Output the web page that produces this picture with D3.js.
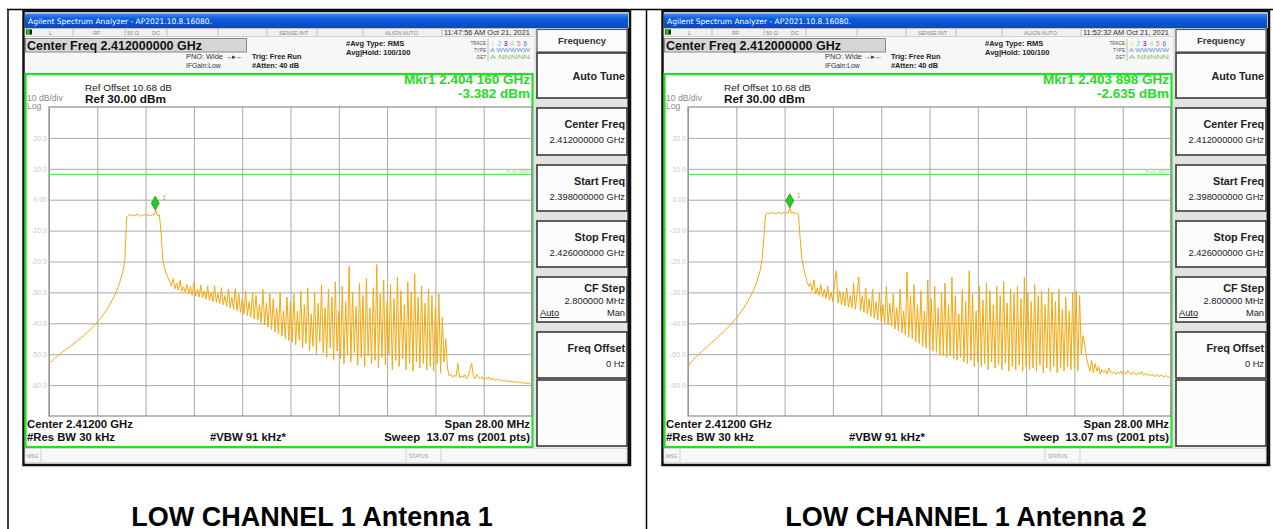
<!DOCTYPE html>
<html>
<head>
<meta charset="utf-8">
<script src="https://cdn.jsdelivr.net/npm/d3@7"></script>
<style>
body { margin: 0; background: #fff; }
svg { display: block; font-family: "Liberation Sans", Arial, sans-serif; }
</style>
</head>
<body>
<svg id="chart" width="1273" height="529"></svg>
<script>
var startMHz = 2398, stopMHz = 2426, stepMHz = 0.1;
var gridMHz = [2398, 2400.8, 2403.6, 2406.4, 2409.2, 2412, 2414.8, 2417.6, 2420.4, 2423.2, 2426];
var refDbm = 30, bottomDbm = -70;
var yTickValues = [20, 10, 0, -10, -20, -30, -40, -50, -60];
var yTickLabels = ["20.0", "10.0", "0.00", "-10.0", "-20.0", "-30.0", "-40.0", "-50.0", "-60.0"];
var displayLineDbm = 8.2;

// trace levels (dBm), one every 0.1 MHz from 2398 to 2426 MHz
var levelsAnt1 = [
  -53.0, -52.6, -52.1, -51.6, -51.0, -50.5, -50.1, -49.7, -49.2, -48.8,
  -48.4, -48.0, -47.6, -47.1, -46.7, -46.3, -45.8, -45.4, -45.0, -44.5,
  -44.0, -43.5, -43.0, -42.5, -42.0, -41.4, -40.8, -40.2, -39.6, -39.0,
  -38.3, -37.6, -36.8, -36.0, -35.1, -34.2, -33.2, -32.1, -31.0, -29.8,
  -28.4, -26.8, -25.0, -22.8, -19.5, -5.6, -5.1, -4.8, -5.3, -4.9,
  -5.2, -4.7, -5.0, -5.4, -4.8, -5.1, -4.6, -5.2, -4.9, -5.3,
  -4.7, -5.0, -3.4, -5.2, -4.9, -11.0, -19.5, -22.0, -24.0, -25.2,
  -26.5, -28.0, -25.5, -28.8, -27.0, -29.3, -26.0, -29.6, -28.2, -30.0,
  -27.5, -30.5, -28.0, -31.0, -26.8, -31.2, -29.0, -31.5, -27.6, -31.8,
  -29.5, -32.2, -28.0, -32.6, -30.0, -33.0, -27.8, -33.3, -30.5, -33.6,
  -28.5, -34.0, -31.0, -34.5, -29.0, -35.0, -31.5, -35.5, -28.8, -36.0,
  -30.5, -36.5, -32.0, -37.0, -29.5, -37.5, -33.0, -38.0, -30.0, -38.6,
  -31.0, -39.0, -34.0, -40.0, -29.0, -40.5, -33.5, -41.2, -30.5, -42.0,
  -32.0, -42.8, -35.0, -43.5, -30.0, -44.2, -36.0, -45.0, -31.5, -45.6,
  -33.0, -46.0, -30.5, -47.0, -36.0, -45.5, -29.5, -48.0, -34.0, -46.5,
  -28.5, -49.0, -37.0, -47.5, -30.0, -50.0, -33.5, -46.0, -27.5, -49.5,
  -35.0, -51.0, -29.0, -48.0, -31.5, -52.0, -26.5, -49.0, -36.0, -51.5,
  -28.0, -53.0, -33.0, -50.0, -21.5, -52.5, -30.0, -49.5, -34.5, -53.5,
  -27.0, -51.0, -31.0, -54.0, -25.5, -50.5, -35.0, -53.0, -28.5, -52.0,
  -21.0, -54.5, -30.5, -51.0, -26.0, -53.5, -33.0, -50.0, -27.5, -55.0,
  -32.0, -52.0, -25.0, -54.0, -29.5, -51.5, -34.0, -55.0, -26.5, -53.0,
  -30.0, -55.5, -24.0, -52.5, -31.5, -54.5, -28.0, -53.0, -33.5, -55.0,
  -29.0, -54.0, -31.0, -55.5, -34.5, -53.0, -30.5, -56.0, -38.0, -52.5,
  -45.0, -54.5, -57.0, -56.5, -57.5, -56.8, -57.2, -53.0, -57.6, -57.0,
  -57.4, -56.5, -58.0, -57.2, -55.0, -53.0, -57.0, -57.8, -56.6, -57.5,
  -57.9, -57.3, -58.2, -57.6, -58.0, -57.4, -58.3, -57.8, -58.1, -58.5,
  -58.0, -58.6, -58.2, -58.8, -58.4, -58.9, -58.5, -59.0, -58.7, -59.1,
  -58.8, -59.2, -58.9, -59.4, -59.0, -59.5, -59.1, -59.6, -59.3, -59.6, -59.5
];
var levelsAnt2 = [
  -54.0, -53.2, -52.5, -51.8, -51.2, -50.6, -50.1, -49.6, -49.1, -48.6,
  -48.1, -47.6, -47.1, -46.6, -46.1, -45.6, -45.1, -44.6, -44.1, -43.6,
  -43.1, -42.6, -42.0, -41.4, -40.8, -40.2, -39.6, -39.0, -38.3, -37.6,
  -36.9, -36.1, -35.3, -34.4, -33.5, -32.5, -31.5, -30.4, -29.2, -27.9,
  -26.4, -24.6, -22.5, -19.0, -12.0, -4.8, -4.3, -4.6, -4.1, -4.5,
  -4.2, -4.7, -4.3, -4.0, -4.6, -4.2, -4.5, -4.1, -4.4, -2.6,
  -4.4, -4.0, -4.6, -4.2, -4.8, -12.5, -19.0, -22.0, -24.5, -26.5,
  -28.0, -27.0, -29.5, -26.0, -30.5, -28.5, -31.0, -27.5, -31.5, -29.0,
  -32.0, -28.0, -32.5, -30.0, -33.0, -27.0, -23.0, -33.5, -29.5, -34.0,
  -30.0, -34.3, -28.5, -34.8, -31.0, -35.0, -27.0, -35.5, -30.5, -25.0,
  -36.0, -31.0, -36.5, -28.5, -37.0, -32.0, -37.8, -29.0, -38.5, -33.0,
  -39.0, -30.0, -39.5, -34.0, -40.0, -28.0, -40.5, -33.5, -41.0, -30.5,
  -41.8, -35.0, -42.5, -29.0, -43.0, -36.0, -43.8, -23.5, -44.5, -31.0,
  -45.0, -27.5, -46.0, -34.0, -46.5, -29.5, -47.5, -36.0, -48.0, -26.0,
  -48.5, -32.0, -49.0, -28.0, -49.5, -35.0, -50.0, -30.0, -50.5, -27.0,
  -51.0, -34.0, -50.5, -25.0, -51.5, -31.0, -52.0, -37.0, -51.0, -29.0,
  -52.5, -33.0, -53.0, -23.0, -52.0, -30.5, -54.0, -36.0, -52.5, -28.0,
  -54.0, -32.5, -53.0, -27.0, -55.0, -29.5, -52.5, -34.0, -54.5, -28.0,
  -53.5, -31.0, -55.0, -26.5, -53.0, -33.5, -55.5, -29.0, -54.0, -30.5,
  -55.0, -28.0, -53.5, -32.0, -55.5, -25.0, -54.0, -30.0, -55.0, -33.0,
  -54.5, -27.5, -55.5, -31.0, -53.5, -29.5, -56.0, -34.0, -54.5, -28.5,
  -55.5, -30.0, -54.0, -33.0, -56.0, -29.0, -54.5, -35.5, -55.5, -31.5,
  -54.0, -36.0, -55.0, -30.0, -54.5, -29.5, -55.5, -31.0, -50.0, -44.0,
  -47.0, -51.0, -53.5, -55.5, -52.0, -56.0, -53.0, -55.5, -54.0, -56.5,
  -55.0, -56.0, -55.2, -56.4, -54.5, -55.8, -56.2, -55.6, -56.5, -55.9,
  -56.2, -55.5, -56.6, -55.8, -56.4, -55.2, -56.0, -56.6, -55.8, -56.3,
  -56.7, -56.0, -56.5, -55.6, -56.8, -56.2, -56.9, -56.4, -57.0, -56.5,
  -56.9, -57.2, -56.6, -57.3, -56.8, -57.0, -57.4, -56.9, -57.3, -57.5, -57.2
];

var markerMHz = [2404.160, 2403.898];
var markerDbm = [-3.382, -2.635];
var markerText = ["Mkr1 2.404 160 GHz", "Mkr1 2.403 898 GHz"];
var markerLevelText = ["-3.382 dBm", "-2.635 dBm"];
var timestamps = ["11:47:56 AM Oct 21, 2021", "11:52:32 AM Oct 21, 2021"];
var captions = ["LOW CHANNEL 1 Antenna 1", "LOW CHANNEL 1 Antenna 2"];
var softkeyTitles = ["Auto Tune", "Center Freq", "Start Freq", "Stop Freq", "CF Step", "Freq Offset", ""];
var softkeyValues = ["", "2.412000000 GHz", "2.398000000 GHz", "2.426000000 GHz", "2.800000 MHz", "0 Hz", ""];

// ---- layout ----
var panelOffsets = [0, 639];
var captionX = [312, 966];
var softkeyTop = [53, 108, 165, 221, 277, 332, 380];
var softkeyBottom = [98, 155, 211, 267, 322, 378, 446];
var plot = { left: 49, right: 532, top: 107, bottom: 416 };

var svg = d3.select("#chart");
var defs = svg.append("defs");
var grad = defs.append("linearGradient").attr("id", "titleGrad")
    .attr("x1", 0).attr("y1", 0).attr("x2", 0).attr("y2", 1);
grad.append("stop").attr("offset", "0%").attr("stop-color", "#3d8cf2");
grad.append("stop").attr("offset", "35%").attr("stop-color", "#0d5ddc");
grad.append("stop").attr("offset", "100%").attr("stop-color", "#0a47c0");

// table lines around the two cells
svg.append("line").attr("x1", 7).attr("x2", 1273).attr("y1", 9.5).attr("y2", 9.5)
    .attr("stroke", "#000").attr("stroke-width", 1.5);
[8, 646.5].forEach(function (lx) {
    svg.append("line").attr("x1", lx).attr("x2", lx).attr("y1", 9).attr("y2", 529)
        .attr("stroke", "#000").attr("stroke-width", 1.5);
});

var x = d3.scaleLinear().domain([startMHz, stopMHz]).range([plot.left, plot.right]);
var y = d3.scaleLinear().domain([bottomDbm, refDbm]).range([plot.bottom, plot.top]);

function txt(g, tx, ty, s, size, opts) {
    opts = opts || {};
    var t = g.append("text").attr("x", tx).attr("y", ty).text(s)
        .attr("font-size", size)
        .attr("fill", opts.fill || "#111")
        .attr("font-weight", opts.bold ? "bold" : "normal")
        .attr("text-anchor", opts.anchor || "start");
    if (opts.len) t.attr("textLength", opts.len).attr("lengthAdjust", "spacingAndGlyphs");
    if (opts.family) t.attr("font-family", opts.family);
    return t;
}

function drawPanel(k) {
    var levels = k === 0 ? levelsAnt1 : levelsAnt2;
    var g = svg.append("g").attr("transform", "translate(" + panelOffsets[k] + ",0)");

    // window body + title bar
    g.append("rect").attr("x", 23.5).attr("y", 11).attr("width", 606.5).attr("height", 454)
        .attr("fill", "#f7f7f7").attr("stroke", "#111").attr("stroke-width", 2.5);
    g.append("rect").attr("x", 25).attr("y", 13.5).attr("width", 603).attr("height", 15)
        .attr("fill", "url(#titleGrad)");
    txt(g, 28, 24, "Agilent Spectrum Analyzer - AP2021.10.8.16080.", 7.6,
        { fill: "#fff", len: 184, family: "DejaVu Sans" });

    // status row
    g.append("rect").attr("x", 25).attr("y", 28.5).attr("width", 510).attr("height", 8)
        .attr("fill", "#f0f0f0").attr("stroke", "#bbb").attr("stroke-width", 0.6);
    g.append("rect").attr("x", 26).attr("y", 29.5).attr("width", 6).attr("height", 5).attr("fill", "#1a1a1a");
    g.append("rect").attr("x", 26.5).attr("y", 30).attr("width", 3).attr("height", 4).attr("fill", "#27c927");
    [73, 125, 167, 218, 267, 317, 363, 442].forEach(function (sx) {
        g.append("line").attr("x1", sx).attr("x2", sx).attr("y1", 29).attr("y2", 36)
            .attr("stroke", "#aaa").attr("stroke-width", 0.7);
    });
    [["L", 49], ["RF", 93], ["50 \u03A9", 127], ["DC", 152], ["SENSE:INT", 279], ["ALIGN AUTO", 385]]
        .forEach(function (d) { txt(g, d[1], 35, d[0], 5.5, { fill: "#888" }); });
    txt(g, 444, 35, timestamps[k], 6.3, { fill: "#333", len: 86 });

    // center freq box and settings
    g.append("rect").attr("x", 25.5).attr("y", 38.5).attr("width", 221).attr("height", 13.5)
        .attr("fill", "#d6d6d6").attr("stroke", "#8a8a8a").attr("stroke-width", 1);
    txt(g, 27, 50, "Center Freq 2.412000000 GHz", 12.5, { bold: true, len: 175 });
    txt(g, 186, 59, "PNO: Wide \u2192\u25B8\u2190", 6.8, { fill: "#333", len: 58 });
    txt(g, 186, 68, "IFGain:Low", 6.8, { fill: "#333" });
    txt(g, 252, 59, "Trig: Free Run", 7.3, { bold: true, fill: "#222" });
    txt(g, 252, 68, "#Atten: 40 dB", 7.3, { bold: true, fill: "#222" });
    txt(g, 346, 46, "#Avg Type: RMS", 7.5, { bold: true, fill: "#222" });
    txt(g, 346, 55, "Avg|Hold: 100/100", 7.5, { bold: true, fill: "#222" });
    txt(g, 486, 45, "TRACE", 4.6, { fill: "#555", anchor: "end" });
    txt(g, 486, 52, "TYPE", 4.6, { fill: "#555", anchor: "end" });
    txt(g, 486, 59, "DET", 4.6, { fill: "#555", anchor: "end" });
    g.append("line").attr("x1", 488).attr("x2", 488).attr("y1", 39).attr("y2", 61)
        .attr("stroke", "#999").attr("stroke-width", 0.6);
    var trColors = ["#e8e860", "#60c8f0", "#b030b0", "#90e090", "#e07090", "#6060e0"];
    trColors.forEach(function (c, i) { txt(g, 491 + i * 6.5, 45.5, String(i + 1), 6.5, { fill: c, bold: i === 2 }); });
    txt(g, 490, 52, "A WWWWW", 4.6, { fill: "#6c8fd0", len: 40 });
    txt(g, 490, 59, "A NNNNN", 4.6, { fill: "#70c070", len: 40 });

    // plot area (green frame)
    g.append("rect").attr("x", 25.5).attr("y", 74).attr("width", 507).attr("height", 373)
        .attr("fill", "#fff").attr("stroke", "#20e020").attr("stroke-width", 2.2);
    txt(g, 27, 101, "10 dB/div", 8.6, { fill: "#8a8a8a" });
    txt(g, 27, 109, "Log", 8.6, { fill: "#8a8a8a" });
    txt(g, 85, 91, "Ref Offset 10.68 dB", 9.7, { fill: "#222", len: 87 });
    txt(g, 85, 103, "Ref 30.00 dBm", 11.8, { bold: true, len: 81 });
    txt(g, 530, 84, markerText[k], 13.5, { bold: true, fill: "#22dd22", anchor: "end" });
    txt(g, 530, 98, markerLevelText[k], 13.5, { bold: true, fill: "#22dd22", anchor: "end" });

    // graticule through the scales
    var gx = g.append("g").attr("transform", "translate(0," + plot.bottom + ")")
        .call(d3.axisBottom(x).tickValues(gridMHz).tickSize(-(plot.bottom - plot.top)).tickFormat(""));
    gx.select(".domain").remove();
    gx.selectAll("line").attr("stroke", "#a9a9a9").attr("stroke-width", 1);
    var gy = g.append("g").attr("transform", "translate(" + plot.left + ",0)")
        .call(d3.axisLeft(y).tickValues(yTickValues).tickSize(-(plot.right - plot.left)).tickPadding(2)
            .tickFormat(function (d, i) { return yTickLabels[i]; }));
    gy.select(".domain").remove();
    gy.selectAll("line").attr("stroke", "#a9a9a9").attr("stroke-width", 1);
    gy.selectAll("text").attr("fill", "#c8c8c8").attr("font-size", 7)
        .attr("font-family", "Liberation Sans, Arial, sans-serif");
    g.append("rect").attr("x", plot.left).attr("y", plot.top)
        .attr("width", plot.right - plot.left).attr("height", plot.bottom - plot.top)
        .attr("fill", "none").attr("stroke", "#8c8c8c").attr("stroke-width", 1.2);

    // display line
    g.append("line").attr("x1", plot.left).attr("x2", plot.right)
        .attr("y1", y(displayLineDbm)).attr("y2", y(displayLineDbm))
        .attr("stroke", "#3ee83e").attr("stroke-width", 1);
    txt(g, plot.right - 2, y(displayLineDbm) - 1, "8.20 dBm", 5.5, { fill: "#8ee08e", anchor: "end" });

    // trace
    var clipId = "clip" + k;
    defs.append("clipPath").attr("id", clipId).append("rect")
        .attr("x", plot.left).attr("y", plot.top)
        .attr("width", plot.right - plot.left).attr("height", plot.bottom - plot.top);
    var line = d3.line()
        .x(function (d, i) { return x(startMHz + i * stepMHz); })
        .y(function (d) { return y(d); });
    g.append("path").datum(levels).attr("d", line)
        .attr("clip-path", "url(#" + clipId + ")")
        .attr("fill", "none").attr("stroke", "#f6a80c").attr("stroke-width", 1)
        .attr("stroke-linejoin", "round");

    // marker
    var mx = x(markerMHz[k]), my = y(markerDbm[k]);
    g.append("path")
        .attr("d", "M" + mx + "," + my + "L" + (mx + 4) + "," + (my - 7) + "L" + mx + "," + (my - 14) + "L" + (mx - 4) + "," + (my - 7) + "Z")
        .attr("fill", "#22cc22").attr("stroke", "#129012").attr("stroke-width", 0.7);
    txt(g, mx + 7, my - 10, "1", 7, { fill: "#e39a10" });

    // bottom annotations
    txt(g, 27, 428, "Center 2.41200 GHz", 11.3, { bold: true, len: 106 });
    txt(g, 27, 441, "#Res BW 30 kHz", 11.3, { bold: true, len: 88 });
    txt(g, 210, 441, "#VBW 91 kHz*", 11.3, { bold: true });
    txt(g, 530, 428, "Span 28.00 MHz", 11.3, { bold: true, anchor: "end" });
    txt(g, 530, 441, "Sweep\u00A0\u00A013.07 ms (2001 pts)", 11.3, { bold: true, anchor: "end" });

    // status bar
    g.append("rect").attr("x", 25).attr("y", 448.5).attr("width", 602).attr("height", 14)
        .attr("fill", "#f7f7f7").attr("stroke", "#c8c8c8").attr("stroke-width", 0.6);
    txt(g, 27, 458, "MSG", 5, { fill: "#999" });
    [41, 406, 441].forEach(function (sx) {
        g.append("line").attr("x1", sx).attr("x2", sx).attr("y1", 449).attr("y2", 462)
            .attr("stroke", "#bbb").attr("stroke-width", 0.6);
    });
    txt(g, 409, 458, "STATUS", 5, { fill: "#999" });

    // softkey panel
    g.append("rect").attr("x", 534).attr("y", 28.5).attr("width", 94).attr("height", 419)
        .attr("fill", "#e2e2e2");
    g.append("line").attr("x1", 629).attr("x2", 629).attr("y1", 28).attr("y2", 465)
        .attr("stroke", "#111").attr("stroke-width", 3);
    g.append("rect").attr("x", 537).attr("y", 29.5).attr("width", 90).attr("height", 22.5)
        .attr("fill", "#fbfbfb").attr("stroke", "#5a5a5a").attr("stroke-width", 1.2);
    txt(g, 582, 44, "Frequency", 9.5, { bold: true, fill: "#333", anchor: "middle" });
    softkeyTitles.forEach(function (t, i) {
        var top = softkeyTop[i], bot = softkeyBottom[i];
        g.append("rect").attr("x", 537).attr("y", top).attr("width", 90).attr("height", bot - top)
            .attr("fill", "#fcfcfc").attr("stroke", "#3a3a3a").attr("stroke-width", 1.6);
        if (!t) return;
        var hasToggle = t === "CF Step";
        var ty = softkeyValues[i] ? top + (hasToggle ? 15 : 20) : (top + bot) / 2 + 4;
        txt(g, 625, ty, t, 10.8, { bold: true, fill: "#222", anchor: "end" });
        if (softkeyValues[i]) txt(g, 625, top + (hasToggle ? 27 : 35), softkeyValues[i], 9.3, { fill: "#222", anchor: "end" });
        if (hasToggle) {
            txt(g, 540, top + 39, "Auto", 9.3, { fill: "#222" }).attr("text-decoration", "underline");
            txt(g, 625, top + 39, "Man", 9.3, { fill: "#222", anchor: "end" });
        }
    });

    // caption
    svg.append("text").attr("x", captionX[k]).attr("y", 526).attr("text-anchor", "middle")
        .attr("font-size", 27).attr("font-weight", "bold").attr("fill", "#000")
        .text(captions[k]);
}

drawPanel(0);
drawPanel(1);
</script>
</body>
</html>
